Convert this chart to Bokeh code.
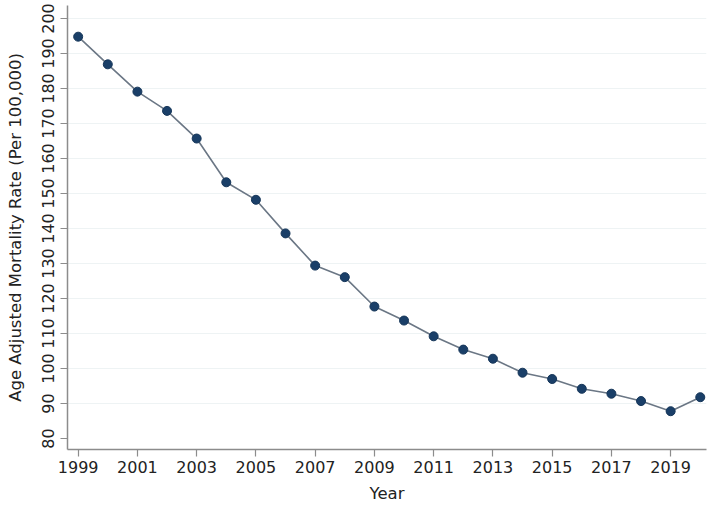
from bokeh.plotting import figure
from bokeh.models import FixedTicker, Range1d
from bokeh.embed import file_html
from bokeh.resources import INLINE

years = [1999, 2000, 2001, 2002, 2003, 2004, 2005, 2006, 2007, 2008, 2009,
         2010, 2011, 2012, 2013, 2014, 2015, 2016, 2017, 2018, 2019, 2020]
rates = [194.8, 186.9, 179.1, 173.6, 165.7, 153.2, 148.2, 138.6, 129.4, 126.1, 117.7,
         113.7, 109.2, 105.4, 102.8, 98.8, 97.0, 94.2, 92.8, 90.7, 87.8, 91.8]
x_ticks = [1999, 2001, 2003, 2005, 2007, 2009, 2011, 2013, 2015, 2017, 2019]
y_ticks = [80, 90, 100, 110, 120, 130, 140, 150, 160, 170, 180, 190, 200]
grid_ticks = [90, 100, 110, 120, 130, 140, 150, 160, 170, 180, 190, 200]

FONT = "DejaVu Sans"

p = figure(width=714, height=506, output_backend="svg", toolbar_location=None,
           x_range=Range1d(1998.64, 2020.21), y_range=Range1d(76.86, 203.71),
           min_border_left=67, min_border_right=8, min_border_top=5, min_border_bottom=57)
p.outline_line_color = None
p.background_fill_color = "white"
p.border_fill_color = "white"

p.line(years, rates, line_color="#6b7785", line_width=1.6)
p.scatter(years, rates, size=9, fill_color="#1a3f68", line_color="#163659", line_width=1)

p.xgrid.visible = False
p.ygrid.ticker = FixedTicker(ticks=grid_ticks)
p.ygrid.grid_line_color = "#eef3f4"
p.ygrid.grid_line_width = 1

for ax in (p.xaxis[0], p.yaxis[0]):
    ax.axis_line_color = "#8c8c8c"
    ax.axis_line_width = 1.5
    ax.major_tick_line_color = "#8c8c8c"
    ax.major_tick_line_width = 1.2
    ax.major_tick_out = 7
    ax.major_tick_in = 0
    ax.minor_tick_line_color = None
    ax.major_label_text_font = FONT
    ax.major_label_text_font_size = "16px"
    ax.major_label_text_color = "#222222"
    ax.axis_label_text_font = FONT
    ax.axis_label_text_font_size = "16.5px"
    ax.axis_label_text_font_style = "normal"
    ax.axis_label_text_color = "#222222"

p.xaxis.ticker = FixedTicker(ticks=x_ticks)
p.yaxis.ticker = FixedTicker(ticks=y_ticks)
p.xaxis.axis_label = "Year"
p.yaxis.axis_label = "Age Adjusted Mortality Rate (Per 100,000)"
p.yaxis.major_label_orientation = "vertical"
p.xaxis.major_label_standoff = 4
p.xaxis.axis_label_standoff = 8
p.yaxis.major_label_standoff = 6
p.yaxis.axis_label_standoff = 15

open("out.html", "w").write(file_html(p, INLINE))
